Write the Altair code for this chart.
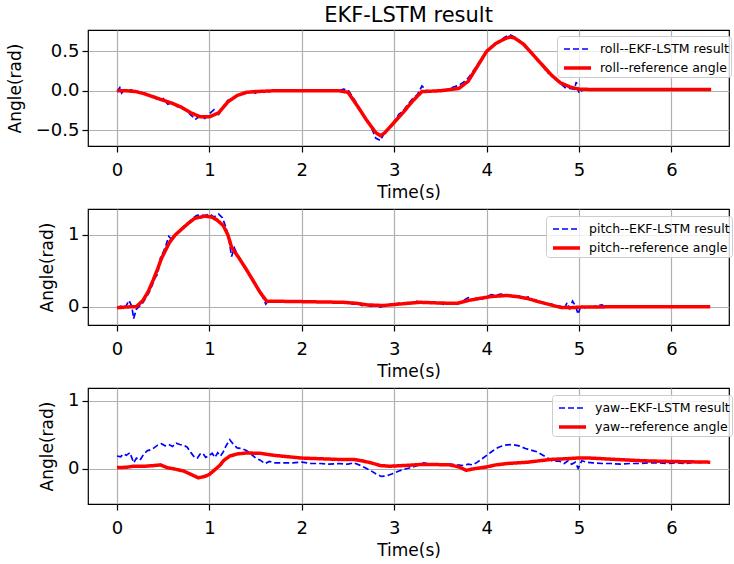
import altair as alt
import pandas as pd

FONT = "DejaVu Sans"

# ---------------- roll ----------------
roll_res_t = [0.00, 0.03, 0.05, 0.08, 0.10, 0.15, 0.20, 0.25, 0.30, 0.35, 0.40, 0.45, 0.50, 0.55, 0.60, 0.65,
              0.70, 0.75, 0.80, 0.85, 0.90, 0.95, 1.00, 1.05, 1.10, 1.15, 1.20, 1.25, 1.30, 1.35, 1.40, 1.45,
              1.50, 1.55, 1.60, 1.65, 1.70, 1.80, 1.90, 2.00, 2.10, 2.20, 2.30, 2.40, 2.45, 2.50, 2.55, 2.60,
              2.65, 2.70, 2.75, 2.80, 2.85, 2.90, 2.95, 3.00, 3.05, 3.10, 3.15, 3.20, 3.25, 3.30, 3.35, 3.40,
              3.45, 3.50, 3.55, 3.60, 3.65, 3.70, 3.75, 3.80, 3.85, 3.90, 3.95, 4.00, 4.05, 4.10, 4.15, 4.20,
              4.25, 4.30, 4.35, 4.40, 4.45, 4.50, 4.55, 4.60, 4.65, 4.70, 4.75, 4.80, 4.85, 4.90, 4.95, 4.97,
              5.00, 5.05, 5.10, 5.15, 5.20, 5.25, 5.28]
roll_res_v = [-0.01, 0.04, -0.03, 0.01, -0.01, 0.01, 0.00, -0.02, -0.03, -0.06, -0.07, -0.13, -0.10, -0.17, -0.15, -0.20,
              -0.22, -0.25, -0.31, -0.36, -0.32, -0.35, -0.29, -0.24, -0.30, -0.20, -0.12, -0.11, -0.06, -0.05, -0.03, -0.01,
              -0.03, -0.01, 0.00, -0.01, 0.01, 0.00, 0.00, 0.005, 0.00, 0.00, 0.00, 0.00, 0.02, 0.01, -0.08, -0.17,
              -0.29, -0.37, -0.46, -0.60, -0.63, -0.52, -0.46, -0.39, -0.30, -0.25, -0.17, -0.10, -0.05, 0.06, 0.00, 0.00,
              0.00, 0.01, 0.00, 0.03, 0.05, 0.07, 0.11, 0.16, 0.24, 0.33, 0.41, 0.50, 0.56, 0.60, 0.64, 0.68,
              0.71, 0.68, 0.64, 0.59, 0.51, 0.46, 0.38, 0.33, 0.24, 0.20, 0.14, 0.09, 0.04, 0.03, 0.02, 0.11,
              -0.03, 0.02, 0.01, 0.01, 0.02, 0.01, 0.01]
roll_ref_t = [0.0, 0.1, 0.2, 0.3, 0.4, 0.5, 0.6, 0.7, 0.8, 0.9, 1.0, 1.1, 1.2, 1.3, 1.4, 1.5, 1.7, 2.0, 2.4, 2.5,
              2.6, 2.7, 2.8, 2.85, 2.9, 3.0, 3.1, 3.2, 3.3, 3.5, 3.7, 3.8, 3.9, 4.0, 4.1, 4.2, 4.25, 4.3, 4.4,
              4.5, 4.6, 4.7, 4.8, 4.9, 5.0, 5.2, 5.6, 6.0, 6.43]
roll_ref_v = [0.0, 0.0, -0.01, -0.04, -0.08, -0.12, -0.16, -0.21, -0.28, -0.33, -0.33, -0.28, -0.14, -0.06, -0.02, -0.01, 0.0, 0.0, 0.0, -0.02,
              -0.19, -0.37, -0.53, -0.57, -0.53, -0.40, -0.27, -0.13, -0.01, 0.0, 0.03, 0.12, 0.31, 0.50, 0.60, 0.66, 0.68, 0.67, 0.59,
              0.46, 0.33, 0.20, 0.10, 0.05, 0.02, 0.015, 0.015, 0.015, 0.015]

# ---------------- pitch ----------------
pitch_res_t = [0.00, 0.04, 0.07, 0.10, 0.13, 0.16, 0.18, 0.21, 0.25, 0.28, 0.32, 0.35, 0.38, 0.41, 0.44, 0.47,
               0.50, 0.53, 0.56, 0.59, 0.63, 0.67, 0.70, 0.74, 0.78, 0.82, 0.86, 0.90, 0.95, 1.00, 1.05, 1.10,
               1.14, 1.18, 1.21, 1.24, 1.27, 1.30, 1.35, 1.40, 1.45, 1.50, 1.55, 1.58, 1.61, 1.64, 1.70, 1.80,
               1.90, 2.00, 2.10, 2.20, 2.30, 2.40, 2.50, 2.55, 2.60, 2.65, 2.70, 2.75, 2.80, 2.85, 2.90, 2.95,
               3.00, 3.05, 3.10, 3.15, 3.20, 3.25, 3.30, 3.40, 3.50, 3.55, 3.60, 3.65, 3.70, 3.75, 3.80, 3.85,
               3.90, 3.95, 4.00, 4.05, 4.10, 4.15, 4.20, 4.25, 4.30, 4.35, 4.40, 4.45, 4.50, 4.55, 4.60, 4.65,
               4.70, 4.75, 4.80, 4.84, 4.87, 4.90, 4.93, 4.96, 4.99, 5.02, 5.06, 5.10, 5.15, 5.20, 5.25, 5.28]
pitch_res_v = [-0.01, 0.01, -0.02, 0.02, 0.09, 0.01, -0.16, -0.03, 0.02, 0.06, 0.14, 0.21, 0.30, 0.40, 0.46, 0.68,
               0.76, 0.86, 0.98, 0.94, 1.00, 1.06, 1.09, 1.14, 1.18, 1.23, 1.27, 1.28, 1.27, 1.29, 1.25, 1.29,
               1.24, 1.10, 0.95, 0.70, 0.82, 0.73, 0.63, 0.52, 0.41, 0.31, 0.20, 0.13, 0.04, 0.09, 0.08, 0.085,
               0.075, 0.08, 0.075, 0.07, 0.07, 0.065, 0.07, 0.04, 0.05, 0.02, 0.03, 0.01, 0.03, 0.00, 0.02, 0.03,
               0.04, 0.05, 0.05, 0.06, 0.05, 0.08, 0.06, 0.06, 0.05, 0.03, 0.05, 0.04, 0.05, 0.09, 0.13, 0.10,
               0.13, 0.11, 0.14, 0.17, 0.16, 0.18, 0.17, 0.16, 0.16, 0.15, 0.12, 0.14, 0.10, 0.09, 0.07, 0.05,
               0.04, 0.02, 0.01, -0.03, 0.06, -0.02, 0.08, 0.02, -0.10, 0.02, -0.01, 0.01, 0.00, 0.02, 0.03, 0.00]
pitch_ref_t = [0.00, 0.10, 0.21, 0.28, 0.34, 0.39, 0.44, 0.48, 0.53, 0.57, 0.63, 0.70, 0.77, 0.84, 0.95, 1.02,
               1.08, 1.15, 1.20, 1.24, 1.32, 1.40, 1.48, 1.55, 1.62, 1.80, 1.98, 2.20, 2.45, 2.60, 2.70, 2.88,
               3.05, 3.28, 3.50, 3.68, 3.80, 3.93, 4.05, 4.22, 4.35, 4.45, 4.57, 4.69, 4.80, 4.90, 5.05, 5.50, 6.42]
pitch_ref_v = [-0.01, 0.0, 0.005, 0.09, 0.22, 0.37, 0.53, 0.67, 0.80, 0.90, 1.00, 1.08, 1.16, 1.23, 1.26, 1.25,
               1.21, 1.13, 1.00, 0.83, 0.68, 0.52, 0.35, 0.20, 0.08, 0.078, 0.075, 0.07, 0.065, 0.05, 0.03, 0.02,
               0.04, 0.065, 0.055, 0.05, 0.09, 0.12, 0.145, 0.16, 0.14, 0.115, 0.07, 0.03, -0.005, -0.01, 0.0, 0.003, 0.005]

# ---------------- yaw ----------------
yaw_res_t = [0.00, 0.04, 0.07, 0.10, 0.14, 0.18, 0.21, 0.25, 0.29, 0.33, 0.36, 0.40, 0.44, 0.48, 0.52, 0.56,
             0.60, 0.64, 0.68, 0.72, 0.76, 0.80, 0.84, 0.87, 0.90, 0.93, 0.96, 1.00, 1.03, 1.06, 1.09, 1.12,
             1.15, 1.18, 1.22, 1.26, 1.30, 1.35, 1.40, 1.45, 1.50, 1.55, 1.60, 1.65, 1.70, 1.80, 1.90, 2.00,
             2.10, 2.20, 2.30, 2.40, 2.50, 2.56, 2.62, 2.68, 2.74, 2.80, 2.86, 2.92, 2.98, 3.05, 3.12, 3.18,
             3.25, 3.32, 3.40, 3.50, 3.60, 3.68, 3.75, 3.80, 3.85, 3.90, 3.95, 4.00, 4.05, 4.10, 4.15, 4.20,
             4.28, 4.35, 4.42, 4.50, 4.55, 4.60, 4.66, 4.72, 4.78, 4.84, 4.88, 4.92, 4.96, 4.99, 5.03, 5.08,
             5.15, 5.25, 5.35, 5.45, 5.55, 5.65, 5.75, 5.85, 5.95, 6.05, 6.15, 6.25, 6.35]
yaw_res_v = [0.19, 0.18, 0.22, 0.20, 0.24, 0.09, 0.16, 0.13, 0.22, 0.27, 0.28, 0.31, 0.35, 0.37, 0.34, 0.36,
             0.33, 0.38, 0.36, 0.35, 0.32, 0.24, 0.17, 0.16, 0.22, 0.23, 0.17, 0.20, 0.23, 0.17, 0.24, 0.19,
             0.25, 0.34, 0.43, 0.36, 0.31, 0.30, 0.27, 0.22, 0.16, 0.13, 0.08, 0.11, 0.09, 0.09, 0.09, 0.10,
             0.08, 0.08, 0.07, 0.08, 0.07, 0.09, 0.06, 0.02, -0.02, -0.07, -0.11, -0.10, -0.07, -0.03, 0.00, 0.02,
             0.05, 0.09, 0.07, 0.07, 0.07, 0.06, 0.05, 0.07, 0.06, 0.10, 0.15, 0.20, 0.25, 0.30, 0.33, 0.35,
             0.36, 0.34, 0.30, 0.27, 0.25, 0.21, 0.16, 0.11, 0.12, 0.08, 0.12, 0.07, 0.10, 0.01, 0.12, 0.10,
             0.09, 0.08, 0.08, 0.07, 0.08, 0.08, 0.09, 0.09, 0.08, 0.09, 0.08, 0.10, 0.09]
yaw_ref_t = [0.00, 0.10, 0.18, 0.30, 0.40, 0.47, 0.54, 0.62, 0.72, 0.80, 0.88, 0.95, 1.00, 1.06, 1.11, 1.16,
             1.22, 1.30, 1.40, 1.55, 1.70, 1.85, 2.00, 2.20, 2.40, 2.56, 2.65, 2.75, 2.85, 2.95, 3.10, 3.28,
             3.45, 3.60, 3.70, 3.78, 3.85, 4.00, 4.10, 4.22, 4.45, 4.69, 4.85, 4.98, 5.12, 5.40, 5.70, 6.00, 6.42]
yaw_ref_v = [0.02, 0.025, 0.04, 0.04, 0.05, 0.06, 0.02, 0.0, -0.03, -0.08, -0.13, -0.11, -0.08, -0.01, 0.05, 0.13,
             0.19, 0.22, 0.235, 0.23, 0.20, 0.18, 0.16, 0.15, 0.14, 0.14, 0.12, 0.09, 0.05, 0.04, 0.05, 0.065,
             0.065, 0.06, 0.03, -0.02, 0.0, 0.03, 0.06, 0.08, 0.10, 0.14, 0.15, 0.16, 0.16, 0.14, 0.12, 0.11, 0.10]

X_DOMAIN = [-0.314, 6.623]
X_TICKS = [0, 1, 2, 3, 4, 5, 6]
W, H = 641, 116


def panel(name, t_res, v_res, t_ref, v_ref, ydom, yvals, yfmt, lx, ly, title=None):
    lab_res = f"{name}--EKF-LSTM result"
    lab_ref = f"{name}--reference angle"
    df = pd.DataFrame({
        "t": t_res + t_ref,
        "v": v_res + v_ref,
        "s": [lab_res] * len(t_res) + [lab_ref] * len(t_ref),
        "k": ["res"] * len(t_res) + ["ref"] * len(t_ref),
    })
    dom = [lab_res, lab_ref]
    leg = alt.Legend(title=None, orient="none", legendX=lx, legendY=ly)
    base = alt.Chart(df).encode(
        x=alt.X("t:Q", scale=alt.Scale(domain=X_DOMAIN, nice=False, zero=False),
                axis=alt.Axis(values=X_TICKS, format="d", title="Time(s)")),
        y=alt.Y("v:Q", scale=alt.Scale(domain=ydom, nice=False, zero=False),
                axis=alt.Axis(values=yvals, format=yfmt, title="Angle(rad)")),
        color=alt.Color("s:N", scale=alt.Scale(domain=dom, range=["#0000ff", "#ff0000"]), legend=leg),
        strokeDash=alt.StrokeDash("s:N", scale=alt.Scale(domain=dom, range=[[6, 3], [1, 0]]), legend=leg),
        strokeWidth=alt.StrokeWidth("s:N", scale=alt.Scale(domain=dom, range=[1.7, 3.5]), legend=leg),
        order=alt.Order("t:Q"),
    )
    blue = base.transform_filter(alt.datum.k == "res").mark_line(clip=True)
    red = base.transform_filter(alt.datum.k == "ref").mark_line(clip=True)
    props = dict(width=W, height=H)
    if title is not None:
        props["title"] = alt.Title(title, fontSize=21, font=FONT, fontWeight="normal",
                                   anchor="middle", frame="group", offset=4, color="black")
    return alt.layer(blue, red).properties(**props)


p1 = panel("roll", roll_res_t, roll_res_v, roll_ref_t, roll_ref_v,
           [-0.70, 0.77], [-0.5, 0.0, 0.5], ".1f", 469, 6, title="EKF-LSTM result")
p2 = panel("pitch", pitch_res_t, pitch_res_v, pitch_ref_t, pitch_ref_v,
           [-0.25, 1.36], [0, 1], "d", 458, 7)
p3 = panel("yaw", yaw_res_t, yaw_res_v, yaw_ref_t, yaw_ref_v,
           [-0.515, 1.19], [0, 1], "d", 464, 7)

chart = alt.vconcat(p1, p2, p3, spacing=63, bounds="flush").resolve_scale(
    color="independent", strokeDash="independent", strokeWidth="independent"
).resolve_legend(
    color="independent", strokeDash="independent", strokeWidth="independent"
).properties(
    padding={"left": 5, "top": 4, "right": 0, "bottom": 2}
).configure_view(
    stroke="black", strokeWidth=1.2
).configure_axis(
    grid=True, gridColor="#b0b0b0", gridWidth=1.2, domain=False,
    tickColor="black", tickSize=6, tickWidth=1.2,
    labelFont=FONT, labelFontSize=18, labelColor="black", labelFlush=False,
    titleFont=FONT, titleFontSize=17, titleFontWeight="normal", titleColor="black",
).configure_axisX(
    labelPadding=9, titlePadding=5
).configure_axisY(
    labelPadding=3, titlePadding=11
).configure_legend(
    labelFont=FONT, labelFontSize=12.5, labelColor="black",
    fillColor="rgba(255,255,255,0.8)", strokeColor="#cccccc", cornerRadius=3,
    padding=2, symbolSize=400, rowPadding=0, labelOffset=17,
    symbolType="M-0.7,0L2,0",
)

chart.save("out.html", embed_options={"renderer": "svg", "actions": False})
